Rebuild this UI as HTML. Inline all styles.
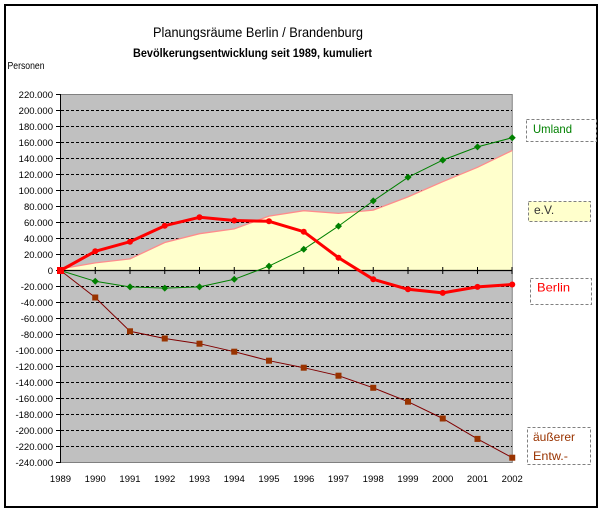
<!DOCTYPE html>
<html><head><meta charset="utf-8"><style>
html,body{margin:0;padding:0;background:#fff;}
svg{display:block;}
text{font-family:"Liberation Sans",sans-serif;}
</style></head><body>
<svg width="604" height="512" viewBox="0 0 604 512" xmlns="http://www.w3.org/2000/svg">
<rect x="0" y="0" width="604" height="512" fill="#fff"/>
<rect x="5" y="5" width="592" height="502" fill="none" stroke="#000" stroke-width="2"/>
<text x="258" y="37" font-size="14" text-anchor="middle" textLength="210" lengthAdjust="spacingAndGlyphs">Planungsräume Berlin / Brandenburg</text>
<text x="252.5" y="57" font-size="11.5" font-weight="bold" text-anchor="middle" textLength="239" lengthAdjust="spacingAndGlyphs">Bevölkerungsentwicklung seit 1989, kumuliert</text>
<text x="7.5" y="69" font-size="10" textLength="37" lengthAdjust="spacingAndGlyphs">Personen</text>
<rect x="60.5" y="94.5" width="451.75" height="368" fill="#C0C0C0" stroke="#808080" stroke-width="1"/>
<g stroke="#000" stroke-width="1" stroke-dasharray="3,2">
<line x1="61" y1="110.5" x2="512" y2="110.5"/>
<line x1="61" y1="126.5" x2="512" y2="126.5"/>
<line x1="61" y1="142.5" x2="512" y2="142.5"/>
<line x1="61" y1="158.5" x2="512" y2="158.5"/>
<line x1="61" y1="174.5" x2="512" y2="174.5"/>
<line x1="61" y1="190.5" x2="512" y2="190.5"/>
<line x1="61" y1="206.5" x2="512" y2="206.5"/>
<line x1="61" y1="222.5" x2="512" y2="222.5"/>
<line x1="61" y1="238.5" x2="512" y2="238.5"/>
<line x1="61" y1="254.5" x2="512" y2="254.5"/>
<line x1="61" y1="286.5" x2="512" y2="286.5"/>
<line x1="61" y1="302.5" x2="512" y2="302.5"/>
<line x1="61" y1="318.5" x2="512" y2="318.5"/>
<line x1="61" y1="334.5" x2="512" y2="334.5"/>
<line x1="61" y1="350.5" x2="512" y2="350.5"/>
<line x1="61" y1="366.5" x2="512" y2="366.5"/>
<line x1="61" y1="382.5" x2="512" y2="382.5"/>
<line x1="61" y1="398.5" x2="512" y2="398.5"/>
<line x1="61" y1="414.5" x2="512" y2="414.5"/>
<line x1="61" y1="430.5" x2="512" y2="430.5"/>
<line x1="61" y1="446.5" x2="512" y2="446.5"/>
</g>
<polygon fill="#FFFFCC" points="60.5,270.5 60.5,268.9 95.25,262.9 130,258.9 164.75,242.5 199.5,233.7 234.25,228.9 269,216.1 303.75,210.7 338.5,213.4 373.25,210.1 408,196.9 442.75,181.7 477.5,167.3 512.25,150.5 512.25,270.5"/>
<polyline fill="none" stroke="#FF8C8C" stroke-width="1.3" points="60.5,268.9 95.25,262.9 130,258.9 164.75,242.5 199.5,233.7 234.25,228.9 269,216.1 303.75,210.7 338.5,213.4 373.25,210.1 408,196.9 442.75,181.7 477.5,167.3 512.25,150.5"/>
<line x1="60.5" y1="94" x2="60.5" y2="463" stroke="#000" stroke-width="1"/>
<line x1="60" y1="270.5" x2="512.5" y2="270.5" stroke="#000" stroke-width="1.2"/>
<g stroke="#000" stroke-width="1">
<line x1="56" y1="94.5" x2="60.5" y2="94.5"/><line x1="56" y1="110.5" x2="60.5" y2="110.5"/><line x1="56" y1="126.5" x2="60.5" y2="126.5"/><line x1="56" y1="142.5" x2="60.5" y2="142.5"/><line x1="56" y1="158.5" x2="60.5" y2="158.5"/><line x1="56" y1="174.5" x2="60.5" y2="174.5"/><line x1="56" y1="190.5" x2="60.5" y2="190.5"/><line x1="56" y1="206.5" x2="60.5" y2="206.5"/><line x1="56" y1="222.5" x2="60.5" y2="222.5"/><line x1="56" y1="238.5" x2="60.5" y2="238.5"/><line x1="56" y1="254.5" x2="60.5" y2="254.5"/><line x1="56" y1="270.5" x2="60.5" y2="270.5"/><line x1="56" y1="286.5" x2="60.5" y2="286.5"/><line x1="56" y1="302.5" x2="60.5" y2="302.5"/><line x1="56" y1="318.5" x2="60.5" y2="318.5"/><line x1="56" y1="334.5" x2="60.5" y2="334.5"/><line x1="56" y1="350.5" x2="60.5" y2="350.5"/><line x1="56" y1="366.5" x2="60.5" y2="366.5"/><line x1="56" y1="382.5" x2="60.5" y2="382.5"/><line x1="56" y1="398.5" x2="60.5" y2="398.5"/><line x1="56" y1="414.5" x2="60.5" y2="414.5"/><line x1="56" y1="430.5" x2="60.5" y2="430.5"/><line x1="56" y1="446.5" x2="60.5" y2="446.5"/><line x1="56" y1="462.5" x2="60.5" y2="462.5"/>
<line x1="95.25" y1="267" x2="95.25" y2="274"/><line x1="130" y1="267" x2="130" y2="274"/><line x1="164.75" y1="267" x2="164.75" y2="274"/><line x1="199.5" y1="267" x2="199.5" y2="274"/><line x1="234.25" y1="267" x2="234.25" y2="274"/><line x1="269" y1="267" x2="269" y2="274"/><line x1="303.75" y1="267" x2="303.75" y2="274"/><line x1="338.5" y1="267" x2="338.5" y2="274"/><line x1="373.25" y1="267" x2="373.25" y2="274"/><line x1="408" y1="267" x2="408" y2="274"/><line x1="442.75" y1="267" x2="442.75" y2="274"/><line x1="477.5" y1="267" x2="477.5" y2="274"/><line x1="512" y1="267" x2="512" y2="274"/>
</g>
<g font-size="9.5" text-anchor="end" fill="#000">
<text x="53" y="98">220.000</text><text x="53" y="114">200.000</text><text x="53" y="130">180.000</text><text x="53" y="146">160.000</text><text x="53" y="162">140.000</text><text x="53" y="178">120.000</text><text x="53" y="194">100.000</text><text x="53" y="210">80.000</text><text x="53" y="226">60.000</text><text x="53" y="242">40.000</text><text x="53" y="258">20.000</text><text x="53" y="274">0</text><text x="53" y="290">-20.000</text><text x="53" y="306">-40.000</text><text x="53" y="322">-60.000</text><text x="53" y="338">-80.000</text><text x="53" y="354">-100.000</text><text x="53" y="370">-120.000</text><text x="53" y="386">-140.000</text><text x="53" y="402">-160.000</text><text x="53" y="418">-180.000</text><text x="53" y="434">-200.000</text><text x="53" y="450">-220.000</text><text x="53" y="466">-240.000</text>
</g>
<g font-size="9.5" text-anchor="middle" fill="#000">
<text x="60.5" y="482">1989</text><text x="95.25" y="482">1990</text><text x="130" y="482">1991</text><text x="164.75" y="482">1992</text><text x="199.5" y="482">1993</text><text x="234.25" y="482">1994</text><text x="269" y="482">1995</text><text x="303.75" y="482">1996</text><text x="338.5" y="482">1997</text><text x="373.25" y="482">1998</text><text x="408" y="482">1999</text><text x="442.75" y="482">2000</text><text x="477.5" y="482">2001</text><text x="512.25" y="482">2002</text>
</g>
<polyline fill="none" stroke="#800000" stroke-width="1" points="60.5,270.5 95.25,297.5 130,331.3 164.75,338.5 199.5,343.7 234.25,351.7 269,360.7 303.75,367.7 338.5,375.7 373.25,387.8 408,401.7 442.75,418.5 477.5,438.9 512.25,457.7"/>
<g fill="#993300">
<rect x="92.25" y="294.5" width="6" height="6"/><rect x="127" y="328.3" width="6" height="6"/><rect x="161.75" y="335.5" width="6" height="6"/><rect x="196.5" y="340.7" width="6" height="6"/><rect x="231.25" y="348.7" width="6" height="6"/><rect x="266" y="357.7" width="6" height="6"/><rect x="300.75" y="364.7" width="6" height="6"/><rect x="335.5" y="372.7" width="6" height="6"/><rect x="370.25" y="384.8" width="6" height="6"/><rect x="405" y="398.7" width="6" height="6"/><rect x="439.75" y="415.5" width="6" height="6"/><rect x="474.5" y="435.9" width="6" height="6"/><rect x="509.25" y="454.7" width="6" height="6"/>
</g>
<polyline fill="none" stroke="#008000" stroke-width="1" points="60.5,270.5 95.25,281.3 130,286.9 164.75,288.1 199.5,286.9 234.25,279.3 269,266.1 303.75,249.3 338.5,226.1 373.25,200.9 408,177.3 442.75,160.1 477.5,146.9 512.25,137.7"/>
<g fill="#008000">
<polygon points="95.25,277.8 98.75,281.3 95.25,284.8 91.75,281.3"/>
<polygon points="130,283.4 133.5,286.9 130,290.4 126.5,286.9"/>
<polygon points="164.75,284.6 168.25,288.1 164.75,291.6 161.25,288.1"/>
<polygon points="199.5,283.4 203,286.9 199.5,290.4 196,286.9"/>
<polygon points="234.25,275.8 237.75,279.3 234.25,282.8 230.75,279.3"/>
<polygon points="269,262.6 272.5,266.1 269,269.6 265.5,266.1"/>
<polygon points="303.75,245.8 307.25,249.3 303.75,252.8 300.25,249.3"/>
<polygon points="338.5,222.6 342,226.1 338.5,229.6 335,226.1"/>
<polygon points="373.25,197.4 376.75,200.9 373.25,204.4 369.75,200.9"/>
<polygon points="408,173.8 411.5,177.3 408,180.8 404.5,177.3"/>
<polygon points="442.75,156.6 446.25,160.1 442.75,163.6 439.25,160.1"/>
<polygon points="477.5,143.4 481,146.9 477.5,150.4 474,146.9"/>
<polygon points="512.25,134.2 515.75,137.7 512.25,141.2 508.75,137.7"/>
</g>
<polyline fill="none" stroke="#FF0000" stroke-width="3" stroke-linejoin="round" points="60.5,270.5 95.25,251.3 130,241.7 164.75,225.7 199.5,217.3 234.25,220.5 269,221.3 303.75,231.7 338.5,257.7 373.25,279.3 408,289.3 442.75,292.9 477.5,286.9 512.25,284.5"/>
<g fill="#FF0000">
<rect x="57" y="267" width="7" height="7"/>
<circle cx="95.25" cy="251.3" r="3"/><circle cx="130" cy="241.7" r="3"/><circle cx="164.75" cy="225.7" r="3"/><circle cx="199.5" cy="217.3" r="3"/><circle cx="234.25" cy="220.5" r="3"/><circle cx="269" cy="221.3" r="3"/><circle cx="303.75" cy="231.7" r="3"/><circle cx="338.5" cy="257.7" r="3"/><circle cx="373.25" cy="279.3" r="3"/><circle cx="408" cy="289.3" r="3"/><circle cx="442.75" cy="292.9" r="3"/><circle cx="477.5" cy="286.9" r="3"/><circle cx="512.25" cy="284.5" r="3"/>
</g>
<g fill="none" stroke="#808080" stroke-width="1" stroke-dasharray="3,2">
<rect x="526.5" y="119.5" width="70" height="22"/>
<rect x="528.5" y="201.5" width="62" height="20" fill="#FFFFCC"/>
<rect x="530.5" y="278.5" width="61" height="26"/>
<rect x="527.5" y="427.5" width="63" height="37"/>
</g>
<text x="533" y="133" font-size="12" fill="#008000" textLength="39" lengthAdjust="spacingAndGlyphs">Umland</text>
<text x="534" y="214" font-size="12" fill="#333">e.V.</text>
<text x="537" y="291.5" font-size="12" fill="#FF0000" textLength="33" lengthAdjust="spacingAndGlyphs">Berlin</text>
<text x="533" y="441" font-size="12" fill="#993300" textLength="42" lengthAdjust="spacingAndGlyphs">äußerer</text>
<text x="533" y="460" font-size="12" fill="#993300" textLength="35" lengthAdjust="spacingAndGlyphs">Entw.-</text>
</svg>
</body></html>
